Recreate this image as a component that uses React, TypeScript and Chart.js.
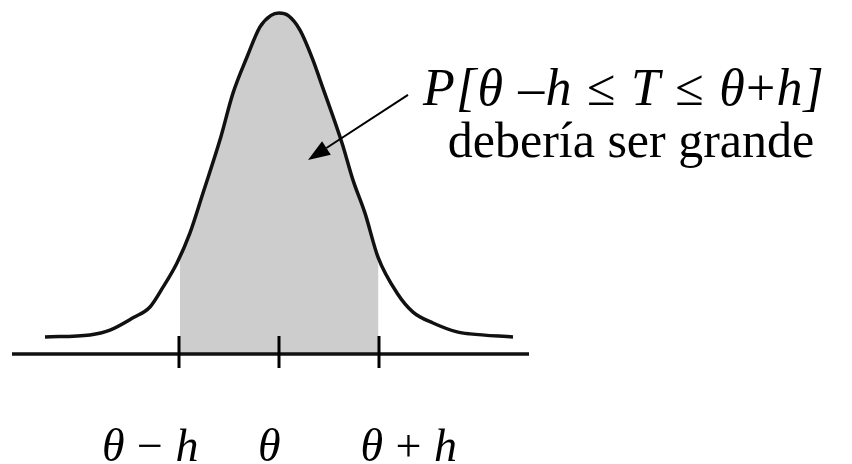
import React, { useEffect, useRef } from "react";
import { Chart, registerables } from "chart.js";

Chart.register(...registerables);

// Curve: x in units of h (θ = 0), y relative height above the axis
const curveX = [-2.34, -1.89, -1.69, -1.46, -1.29, -1.16, -1.02, -0.89, -0.76, -0.59, -0.46, -0.32, -0.19, -0.08, 0, 0.09, 0.21, 0.34, 0.41, 0.63, 0.74, 0.86, 0.99, 1.18, 1.34, 1.54, 1.78, 1.91, 2.34];
const curveY = [0.05, 0.056, 0.07, 0.106, 0.138, 0.196, 0.267, 0.355, 0.472, 0.628, 0.765, 0.871, 0.959, 0.993, 1.0, 0.993, 0.95, 0.862, 0.804, 0.619, 0.51, 0.413, 0.284, 0.179, 0.123, 0.091, 0.065, 0.059, 0.05];

// Shaded region bounds (θ − h … θ + h)
const shadeFrom = -0.99;
const shadeTo = 0.995;
const shadeEdgeY = [0.28, 0.28];

// Horizontal axis extent
const axisX = [-2.67, 2.5];

// Tick positions and labels
const tickValues = [-1, 0, 1];
const tickLabels = [
  [{ t: "θ", it: true }, { t: " − ", it: false }, { t: "h", it: true }],
  [{ t: "θ", it: true }],
  [{ t: "θ", it: true }, { t: " + ", it: false }, { t: "h", it: true }],
];
const tickLabelOffsets = [-28.5, -9.5, 30];

// Annotation
const annotationLine1 = [
  { t: "P[θ ", it: true },
  { t: "–", it: false },
  { t: "h ", it: true },
  { t: "≤ ", it: false },
  { t: "T ", it: true },
  { t: "≤ ", it: false },
  { t: "θ", it: true },
  { t: "+", it: false },
  { t: "h]", it: true },
];
const annotationLine2 = "debería ser grande";
const annotationAnchor1 = { x: 1.44, y: 0.73 };
const annotationAnchor2 = { x: 3.52, y: 0.578 };
const arrowFrom = { x: 1.29, y: 0.76 };
const arrowTo = { x: 0.29, y: 0.569 };

const FONT = '"Liberation Serif", "Times New Roman", serif';

type Seg = { t: string; it: boolean };

function drawRich(ctx: CanvasRenderingContext2D, segs: Seg[], x: number, y: number, size: number, align: "left" | "center", spacing = 0) {
  (ctx as any).letterSpacing = `${spacing}px`;
  const widths = segs.map((s) => {
    ctx.font = `${s.it ? "italic " : ""}${size}px ${FONT}`;
    return ctx.measureText(s.t).width;
  });
  const total = widths.reduce((a, b) => a + b, 0);
  let cx = align === "center" ? x - total / 2 : x;
  ctx.textAlign = "left";
  ctx.textBaseline = "alphabetic";
  segs.forEach((s, i) => {
    ctx.font = `${s.it ? "italic " : ""}${size}px ${FONT}`;
    ctx.fillText(s.t, cx, y);
    cx += widths[i];
  });
  (ctx as any).letterSpacing = "0px";
}

const overlayPlugin = {
  id: "overlay",
  afterDatasetsDraw(chart: any) {
    const ctx: CanvasRenderingContext2D = chart.ctx;
    const xs = chart.scales.x;
    const ys = chart.scales.y;
    const axisY = ys.getPixelForValue(0);
    ctx.save();
    // tick marks
    ctx.strokeStyle = "#000";
    ctx.lineWidth = 3;
    tickValues.forEach((v) => {
      const px = xs.getPixelForValue(v);
      ctx.beginPath();
      ctx.moveTo(px, axisY - 18);
      ctx.lineTo(px, axisY + 14);
      ctx.stroke();
    });
    // tick labels
    ctx.fillStyle = "#000";
    tickValues.forEach((v, i) => {
      const px = xs.getPixelForValue(v) + tickLabelOffsets[i];
      drawRich(ctx, tickLabels[i], px, 461, 46, "center", 0.5);
    });
    // annotation
    drawRich(ctx, annotationLine1, xs.getPixelForValue(annotationAnchor1.x), ys.getPixelForValue(annotationAnchor1.y), 52, "left", 1.2);
    drawRich(ctx, [{ t: annotationLine2, it: false }], xs.getPixelForValue(annotationAnchor2.x), ys.getPixelForValue(annotationAnchor2.y), 50, "center");
    // arrow
    const x1 = xs.getPixelForValue(arrowFrom.x);
    const y1 = ys.getPixelForValue(arrowFrom.y);
    const x2 = xs.getPixelForValue(arrowTo.x);
    const y2 = ys.getPixelForValue(arrowTo.y);
    const ang = Math.atan2(y2 - y1, x2 - x1);
    const headLen = 22;
    const headW = 8;
    const bx = x2 - headLen * Math.cos(ang);
    const by = y2 - headLen * Math.sin(ang);
    ctx.lineWidth = 2;
    ctx.beginPath();
    ctx.moveTo(x1, y1);
    ctx.lineTo(bx, by);
    ctx.stroke();
    ctx.beginPath();
    ctx.moveTo(x2, y2);
    ctx.lineTo(bx + headW * Math.sin(ang), by - headW * Math.cos(ang));
    ctx.lineTo(bx - headW * Math.sin(ang), by + headW * Math.cos(ang));
    ctx.closePath();
    ctx.fill();
    ctx.restore();
  },
};

export default function App() {
  const ref = useRef<HTMLCanvasElement>(null);
  useEffect(() => {
    if (!ref.current) return;
    const curve = curveX.map((x, i) => ({ x, y: curveY[i] }));
    const inner = curve.filter((p) => p.x > shadeFrom && p.x < shadeTo);
    const shade = [{ x: shadeFrom, y: shadeEdgeY[0] }, ...inner, { x: shadeTo, y: shadeEdgeY[1] }];
    const chart = new Chart(ref.current, {
      type: "line",
      data: {
        datasets: [
          {
            data: curve,
            borderColor: "#111",
            borderWidth: 3.5,
            pointRadius: 0,
            cubicInterpolationMode: "monotone",
            fill: false,
          },
          {
            data: axisX.map((x) => ({ x, y: 0 })),
            borderColor: "#111",
            borderWidth: 3.5,
            pointRadius: 0,
            fill: false,
          },
          {
            data: shade,
            borderWidth: 0,
            borderColor: "rgba(0,0,0,0)",
            backgroundColor: "#cdcdcd",
            pointRadius: 0,
            cubicInterpolationMode: "monotone",
            fill: { value: 0 },
          },
        ],
      },
      options: {
        animation: false,
        responsive: false,
        maintainAspectRatio: false,
        devicePixelRatio: 1,
        layout: { padding: 0 },
        plugins: { legend: { display: false }, tooltip: { enabled: false }, title: { display: false } },
        scales: {
          x: { type: "linear", display: false, min: -2.79, max: 5.73 },
          y: { type: "linear", display: false, min: -0.32258, max: 1.03812 },
        },
      },
      plugins: [overlayPlugin],
    } as any);
    return () => chart.destroy();
  }, []);
  return (
    <div style={{ position: "fixed", left: 0, top: 0, width: 852, height: 464, background: "#fff" }}>
      <canvas ref={ref} width={852} height={464} />
    </div>
  );
}
